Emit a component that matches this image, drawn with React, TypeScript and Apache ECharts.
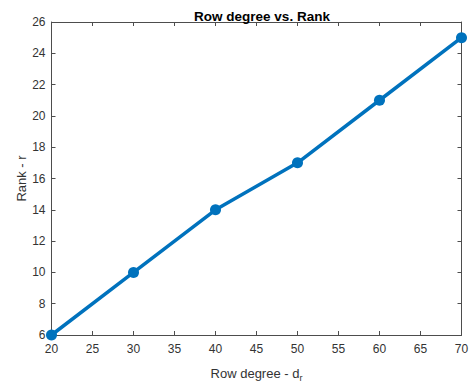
import React, { useEffect, useRef } from "react";
import * as echarts from "echarts";

const rowDegree = [20, 30, 40, 50, 60, 70];
const rank = [6, 10, 14, 17, 21, 25];
const titleText = "Row degree vs. Rank";
const xName = "Row degree - d";
const yName = "Rank - r";

export default function App() {
  const ref = useRef<HTMLDivElement>(null);
  useEffect(() => {
    document.body.style.margin = "0";
    const chart = echarts.init(ref.current!, null, { renderer: "svg" });
    const font = "'Liberation Sans', Arial, Helvetica, sans-serif";
    const axisColor = "#4d4d4d";
    const labelColor = "#333333";
    const common = {
      axisLine: { show: true, lineStyle: { color: axisColor, width: 1 } },
      axisTick: { show: true, inside: true, length: 4, lineStyle: { color: axisColor } },
      splitLine: { show: false },
    };
    chart.setOption({
      animation: false,
      backgroundColor: "#ffffff",
      title: {
        text: titleText,
        left: 257,
        textAlign: "center",
        top: 4,
        textStyle: { fontFamily: font, fontSize: 13.5, fontWeight: "bold", color: "#000" },
      },
      grid: { left: 51.5, right: 11.5, top: 22, bottom: 45 },
      xAxis: [
        {
          type: "value",
          min: 20,
          max: 70,
          interval: 5,
          position: "bottom",
          ...common,
          axisLabel: { fontFamily: font, fontSize: 12, color: labelColor, margin: 8 },
          name: "{a|" + xName + "}{s|r}",
          nameLocation: "middle",
          nameGap: 30,
          nameTextStyle: {
            rich: {
              a: { fontFamily: font, fontSize: 13, color: labelColor },
              s: { fontFamily: font, fontSize: 9, color: labelColor, verticalAlign: "bottom", padding: [8, 0, 0, 0] },
            },
          },
        },
        {
          type: "value",
          min: 20,
          max: 70,
          interval: 5,
          position: "top",
          ...common,
          axisLabel: { show: false },
        },
      ],
      yAxis: [
        {
          type: "value",
          min: 6,
          max: 26,
          interval: 2,
          position: "left",
          ...common,
          axisLabel: { fontFamily: font, fontSize: 12, color: labelColor, margin: 6 },
          name: yName,
          nameLocation: "middle",
          nameGap: 24,
          nameMoveOverlap: false,
          nameTextStyle: { fontFamily: font, fontSize: 13, color: labelColor },
        },
        {
          type: "value",
          min: 6,
          max: 26,
          interval: 2,
          position: "right",
          ...common,
          axisLabel: { show: false },
        },
      ],
      series: [
        {
          type: "line",
          data: rowDegree.map((x, i) => [x, rank[i]]),
          lineStyle: { color: "#0072BD", width: 3.5 },
          symbol: "circle",
          symbolSize: 11,
          itemStyle: { color: "#0072BD" },
          clip: false,
        },
      ],
    });
    return () => chart.dispose();
  }, []);
  return <div ref={ref} style={{ width: 473, height: 387 }} />;
}
